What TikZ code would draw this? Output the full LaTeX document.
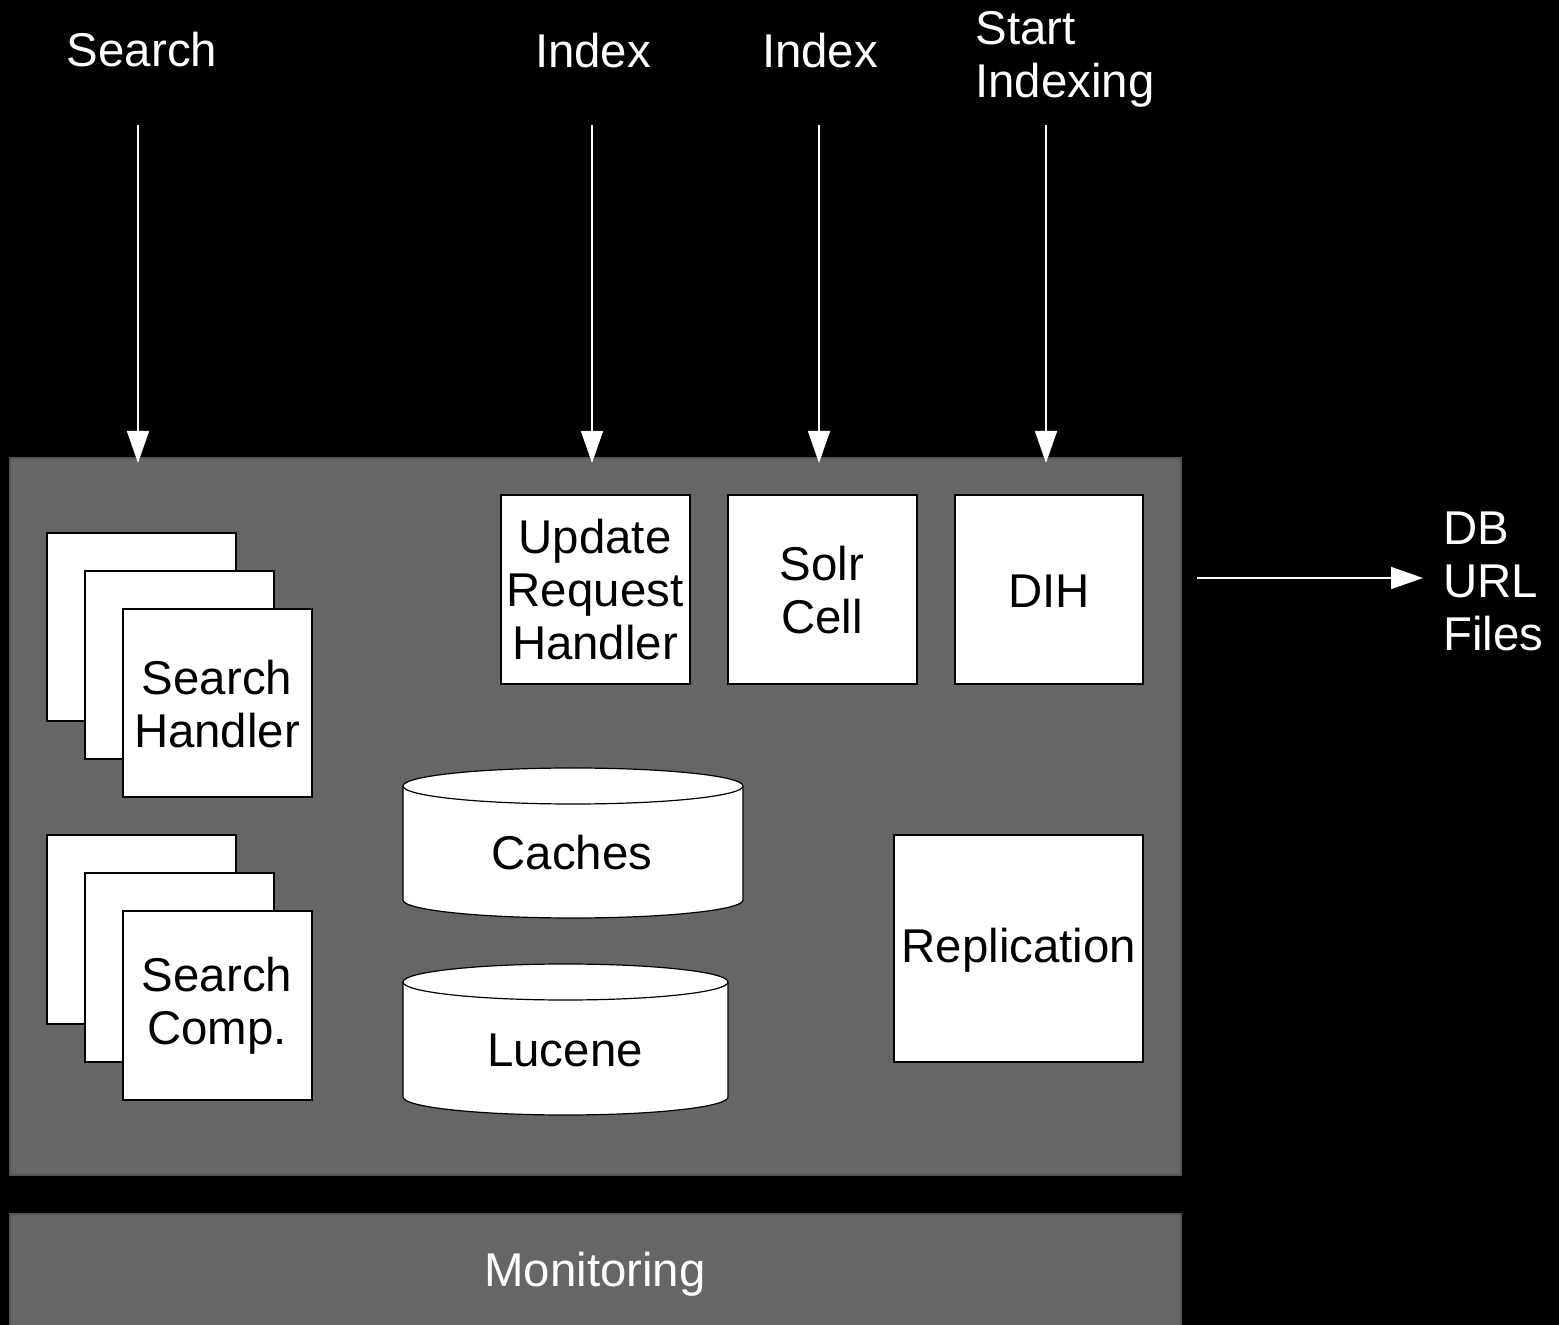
\documentclass[tikz,border=0pt]{standalone}
\usepackage{fontspec}
\setmainfont{Liberation Sans}
\usetikzlibrary{arrows.meta}
\begin{document}
\begin{tikzpicture}[x=0.5pt,y=-0.5pt,
		font=\fontsize{23.7}{26.5}\selectfont,
		box/.style={draw=black,fill=white,line width=0.6pt},
		boxtext/.style={align=center,text=black},
		label/.style={text=white,align=left,inner sep=0pt},
		arr/.style={draw=white,line width=0.8pt,-{Triangle[width=11pt,length=16pt]}},
		panel/.style={fill=black!60,draw=black!67,line width=0.6pt}]
	\useasboundingbox[fill=black] (0,0) rectangle (1559,1325);
	% Panels
	\draw[panel] (10,458) rectangle (1181,1175);
	\draw[panel] (10,1214) rectangle (1181,1340);
	\node[text=white] (monitoring) at (595,1274) {Monitoring};
	
	% Stacked handlers
	\foreach \d in {0,38,76}{
		\draw[box] (47+\d,533+\d) rectangle (236+\d,721+\d);
		\draw[box] (47+\d,835+\d) rectangle (236+\d,1024+\d);
	}
	\node[boxtext] (searchhandler) at (217,704) {Search\\Handler};
	\node[boxtext] (searchcomp) at (217,1006) {Search\\Comp.};
	
	% Update handlers
	\draw[box] (501,495) rectangle (690,684);
	\node[boxtext] (update) at (595,590) {Update\\Request\\Handler};
	\draw[box] (728,495) rectangle (917,684);
	\node[boxtext] (solrcell) at (822,590) {Solr\\Cell};
	\draw[box] (955,495) rectangle (1143,684);
	\node[boxtext] (dih) at (1049,591) {DIH};
	\draw[box] (894,835) rectangle (1143,1062);
	\node[boxtext] (replication) at (1019,950) {Replication};
	
	% Caches
	\draw[box] (403,786) -- (403,900) arc (180:0:170 and 18) -- (743,786) arc (360:180:170 and 18) -- cycle;
	\draw[line width=0.6pt] (403,786) arc (180:0:170 and 18);
	\node[boxtext] (caches) at (572,853) {Caches};
	
	% Lucene
	\draw[box] (403,982) -- (403,1097) arc (180:0:162.5 and 18) -- (728,982) arc (360:180:162.5 and 18) -- cycle;
	\draw[line width=0.6pt] (403,982) arc (180:0:162.5 and 18);
	\node[boxtext] (lucene) at (565,1050) {Lucene};
	
	% Requests
	\node[label,anchor=base] (search) at (142,67) {Search};
	\node[label,anchor=base] (index1) at (593,68) {Index};
	\node[label,anchor=base] (index2) at (820,68) {Index};
	\node[label,anchor=base west] (start) at (975,98) {Start\\Indexing};
	\node[label,anchor=base west] (sources) at (1443,651) {DB\\URL\\Files};
	
	\foreach \n/\x in {s/138,i/592,c/819,d/1046}{
		\coordinate (\n top) at (\x,125);
		\coordinate (\n end) at (\x,463);
		\draw[arr] (\n top) -- (\n end);
	}
	\coordinate (dbstart) at (1197,578);
	\coordinate (dbend) at (1423,578);
	\draw[arr] (dbstart) -- (dbend);
\end{tikzpicture}
\end{document}
